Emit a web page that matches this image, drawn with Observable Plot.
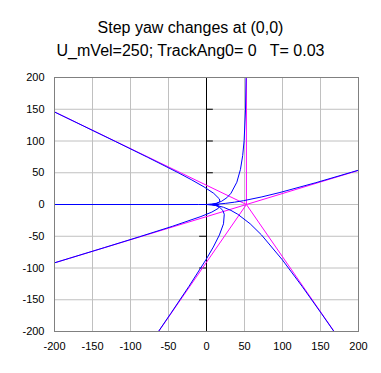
<!DOCTYPE html>
<html>
<head>
<meta charset="utf-8">
<script src="https://cdn.jsdelivr.net/npm/d3@7"></script>
<script src="https://cdn.jsdelivr.net/npm/@observablehq/plot@0.6"></script>
<style>
  html, body { margin: 0; padding: 0; background: white; }
  #wrap { width: 381px; height: 373px; overflow: hidden; background: white; }
  #title { height: 60px; box-sizing: border-box; padding-top: 16px; font-family: "Liberation Sans", Arial, sans-serif;
           font-size: 16px; line-height: 23.4px; text-align: center; color: black; white-space: pre; }
  #title div { height: 23.4px; }
  svg { display: block; }
</style>
</head>
<body>
<div id="wrap">
  <div id="title"><div>Step yaw changes at (0,0)</div><div>U_mVel=250; TrackAng0= 0   T= 0.03</div></div>
  <div id="chart"></div>
</div>
<script>
const xTicks = [-200, -150, -100, -50, 0, 50, 100, 150, 200];
const yTicks = [-200, -150, -100, -50, 0, 50, 100, 150, 200];
const axisTicksUp = [50, 100, 150];
const axisTicksDown = [-50, -100, -150];

// blue tracks, one per new heading (degrees)
const track20 = [[0,0],[7.47,0.18],[14.88,0.67],[24.69,1.74],[36.86,3.66],[48.93,6.07],[72.88,12.0],[96.66,18.91],[143.9,34.37],[191.0,50.84],[238.0,67.7]];
const track90 = [[0,0],[6.99,0.51],[13.05,1.95],[19.89,5.11],[26.8,10.7],[32.25,17.75],[39.92,35.08],[44.68,55.32],[47.64,77.36],[49.49,100.5],[51.33,148.7],[52.05,198],[52.33,247.7]];
const track150 = [[0,0],[6.54,0.26],[11.36,0.98],[15.47,2.55],[17.53,5.35],[16.87,8.88],[9.54,17.54],[-3.22,27.66],[-19.34,38.68],[-37.55,50.26],[-77.4,74.33],[-119.4,98.97],[-162.2,123.8],[-205.3,148.8]];
const track180 = [[0,0],[6.48,0],[11.09,0],[14.78,0],[16.1,0],[14.49,0],[4.83,0],[-10.63,0],[-51.03,0],[-245,0]];
const track200 = [[0,0],[6.5,-0.18],[11.22,-0.67],[15.09,-1.74],[16.74,-3.66],[15.56,-6.07],[6.95,-12.0],[-7.29,-18.91],[-44.92,-34.37],[-88.33,-50.84],[-133.9,-67.7],[-180.4,-84.7],[-227.2,-101.8]];
const track240 = [[0,0],[6.73,-0.45],[12.07,-1.69],[17.34,-4.42],[21.45,-9.27],[23.37,-15.37],[22.37,-30.38],[17.02,-47.9],[8.97,-66.99],[-0.77,-87.04],[-23.0,-128.7],[-46.92,-171.4],[-71.51,-214.5]];
const track300 = [[0,0],[7.24,-0.45],[14.02,-1.69],[22.45,-4.42],[32.15,-9.27],[41.12,-15.37],[57.46,-30.38],[72.34,-47.9],[99.74,-87.04],[125.67,-128.7],[151.03,-171.4],[176.16,-214.5]];
const tracks = [track20, track90, track150, track180, track200, track240, track300];

// magenta asymptote rays from a common point
const rayOrigin = [52.5, 0];
const rayEnds = [[200, 53.7], [52.5, 200], [-200, 145.8], [-200, -91.9], [-63, -200], [168, -200]];

const rays = rayEnds.map(e => ({x1: rayOrigin[0], y1: rayOrigin[1], x2: e[0], y2: e[1]}));
const fmt = d => String(d);

const chart = Plot.plot({
  width: 381,
  height: 313,
  marginTop: 17,
  marginBottom: 42,
  marginLeft: 54,
  marginRight: 23,
  style: {fontFamily: "'Liberation Sans', Arial, sans-serif", fontSize: "11px", color: "black", background: "white"},
  x: {domain: [-200, 200], ticks: xTicks, tickSize: 0, tickPadding: 11, tickFormat: fmt, label: null},
  y: {domain: [-200, 200], ticks: yTicks, tickSize: 0, tickPadding: 10, tickFormat: fmt, label: null},
  marks: [
    Plot.ruleX(xTicks, {stroke: "#c0c0c0", strokeWidth: 1}),
    Plot.ruleY(yTicks, {stroke: "#c0c0c0", strokeWidth: 1}),
    Plot.ruleX([0], {stroke: "black", strokeWidth: 1}),
    Plot.ruleY(axisTicksUp, {x1: 0, x2: 9, stroke: "black"}),
    Plot.ruleY(axisTicksDown, {x1: -9, x2: 0, stroke: "black"}),
    Plot.link(rays, {x1: "x1", y1: "y1", x2: "x2", y2: "y2", stroke: "#ff00ff", strokeWidth: 1, clip: true}),
    ...tracks.map(t => Plot.line(t, {x: d => d[0], y: d => d[1], stroke: "#0000ff", strokeWidth: 1, clip: true})),
    Plot.frame({stroke: "#808080", strokeWidth: 1})
  ]
});
document.getElementById("chart").appendChild(chart);
</script>
</body>
</html>
